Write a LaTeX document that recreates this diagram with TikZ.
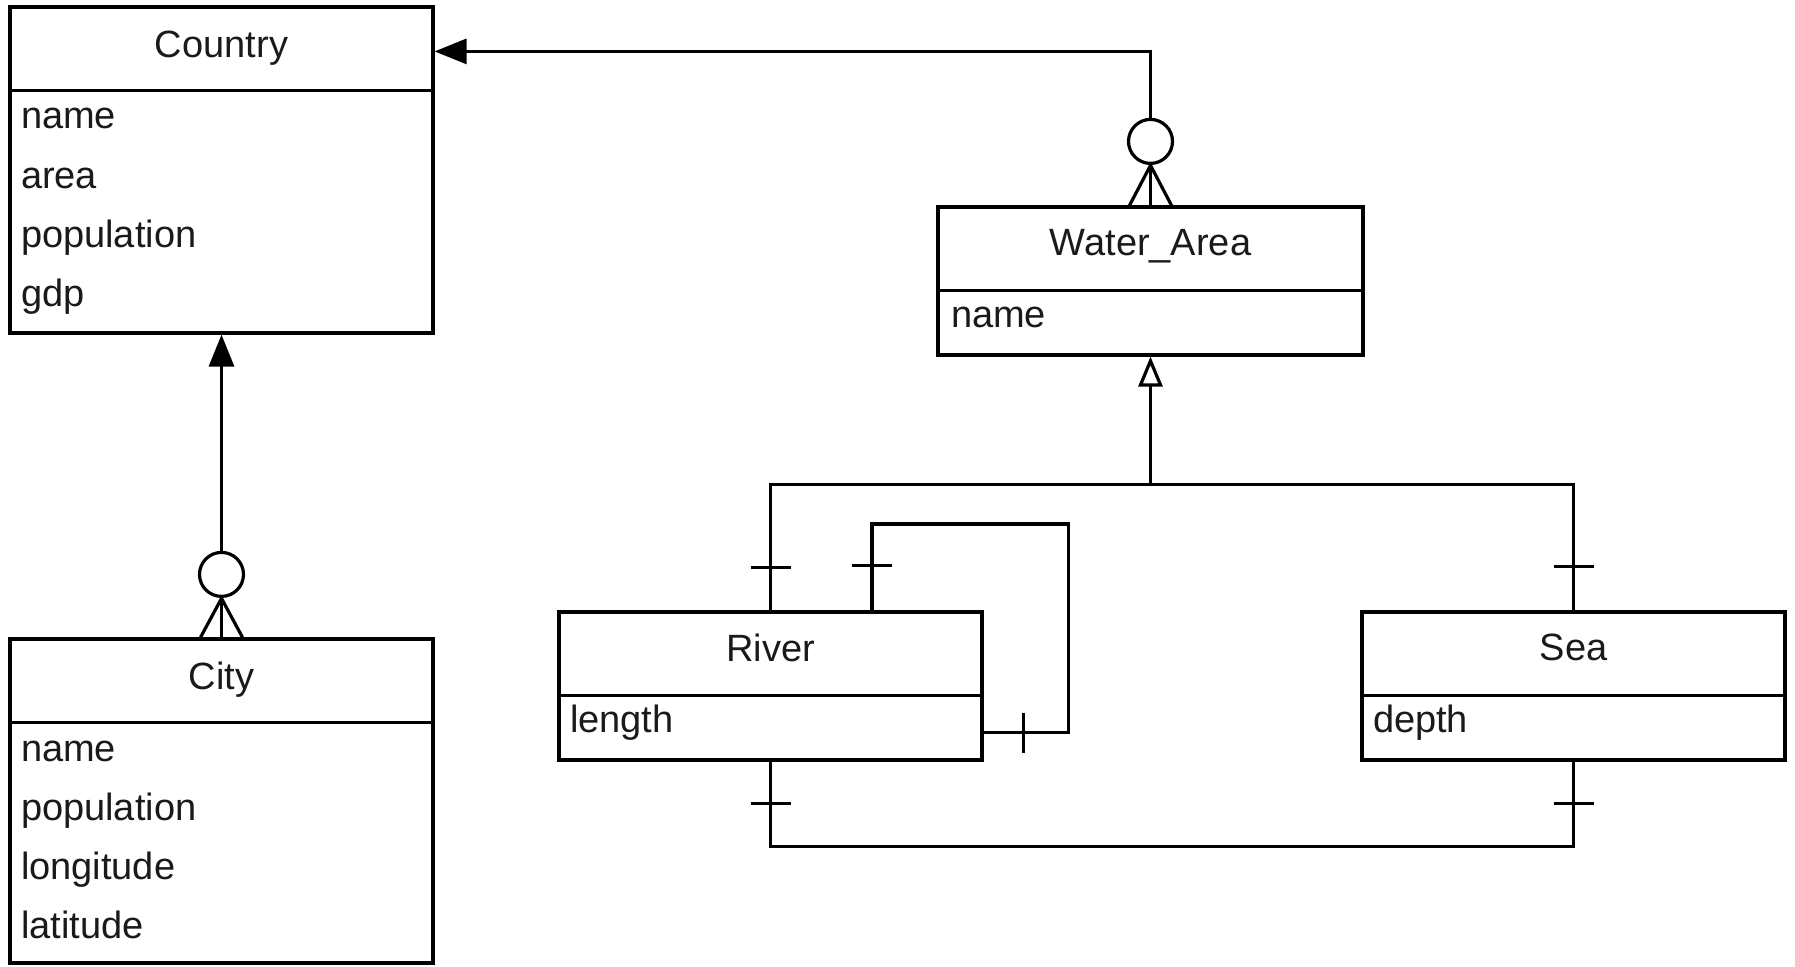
\documentclass[tikz,border=0pt]{standalone}
\usepackage{fontspec}
\setmainfont{Liberation Sans}
\usetikzlibrary{arrows.meta,calc}
\definecolor{txt}{HTML}{1A1A1A}
\begin{document}
\begin{tikzpicture}[x=1pt,y=-1pt,line width=3.2pt,
  box/.style={draw,rectangle,inner sep=0pt,minimum width=423pt},
  title/.style={anchor=base,inner sep=0pt,text=txt,font=\fontsize{38}{45}\selectfont},
  attr/.style={anchor=base west,inner sep=0pt,text=txt,font=\fontsize{38}{45}\selectfont},
  ring/.style={draw,circle,inner sep=0pt,minimum size=44pt},
  solidtip/.style={-{Triangle[length=32pt,width=25pt]}},
  opentip/.style={-{Triangle[open,fill=white,length=30pt,width=24pt]}}]
\useasboundingbox (0,0) rectangle (1795,966);

% boxes
\node[box,minimum height=326pt] (country) at (221.5,170) {};
\node[box,minimum height=324pt] (city) at (221.5,801) {};
\node[box,minimum width=425pt,minimum height=148pt] (water) at (1150.5,281) {};
\node[box,minimum height=148pt] (river) at (770.5,686) {};
\node[box,minimum height=148pt] (sea) at (1573.5,686) {};

% dividers
\foreach \b in {country,city,water,river,sea}
  \draw ($(\b.north west)+(0,85)$) -- ($(\b.north east)+(0,85)$);

% titles
\node[title] (tcountry) at ($(country.north)+(0,52)$) {Country};
\node[title] (tcity) at ($(city.north)+(0,52)$) {City};
\node[title] (twater) at ($(water.north)+(0,50)$) {Water\_Area};
\node[title] (triver) at ($(river.north)+(0,51)$) {River};
\node[title] (tsea) at ($(sea.north)+(0,50)$) {Sea};

% attributes
\node[attr] (c1) at ($(country.north west)+(11,123)$) {name};
\node[attr] (c2) at ($(country.north west)+(11,183)$) {area};
\node[attr] (c3) at ($(country.north west)+(11,242)$) {population};
\node[attr] (c4) at ($(country.north west)+(11,301)$) {gdp};
\node[attr] (y1) at ($(city.north west)+(11,124)$) {name};
\node[attr] (y2) at ($(city.north west)+(11,183)$) {population};
\node[attr] (y3) at ($(city.north west)+(11,242)$) {longitude};
\node[attr] (y4) at ($(city.north west)+(11,301)$) {latitude};
\node[attr] (w1) at ($(water.north west)+(13,122)$) {name};
\node[attr] (r1) at ($(river.north west)+(11,122)$) {length};
\node[attr] (s1) at ($(sea.north west)+(11,122)$) {depth};

% City -> Country (zero or many)
\node[ring] (cityring) at ($(city.north)+(0,-63)$) {};
\draw (city.north) -- ++(0,-39);
\draw ($(city.north)+(-21,0)$) -- ($(city.north)+(0,-39)$) -- ($(city.north)+(21,0)$);
\draw[solidtip] (cityring) -- (country);

% Water_Area -> Country (zero or many)
\node[ring] (waterring) at ($(water.north)+(0,-64)$) {};
\draw (water.north) -- ++(0,-40);
\draw ($(water.north)+(-21,0)$) -- ($(water.north)+(0,-40)$) -- ($(water.north)+(21,0)$);
\coordinate (cnt) at ($(country.north east)+(0,46)$);
\draw[solidtip] (waterring.north) |- (cnt);

% generalisation River, Sea -> Water_Area
\coordinate (j) at ($(water.south)+(0,128)$);
\draw (river.north) |- (j) -| (sea.north);
\draw[opentip] (j) -- (water.south);
\draw ($(river.north)+(-20,-43)$) -- ++(40,0);
\draw ($(sea.north)+(-20,-44)$) -- ++(40,0);

% self loop on River
\coordinate (ls) at ($(river.north west)+(314.5,0)$);
\coordinate (re) at ($(river.south east)+(0,-29)$);
\draw (ls) -- ++(0,-86.5) -| ($(re)+(85,0)$) -- (re);
\draw ($(ls)+(-20,-45)$) -- ++(40,0);
\draw ($(re)+(40,-20)$) -- ++(0,40);

% River -- Sea
\draw (river.south) -- ++(0,85) -| (sea.south);
\draw ($(river.south)+(-20,42)$) -- ++(40,0);
\draw ($(sea.south)+(-20,42)$) -- ++(40,0);
\end{tikzpicture}
\end{document}
